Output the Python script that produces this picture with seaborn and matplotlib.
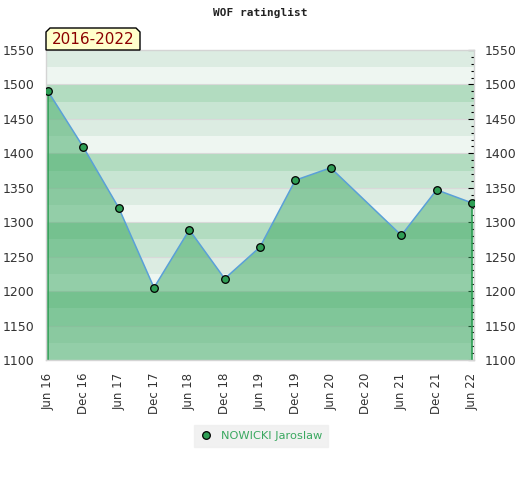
import numpy as np
import pandas as pd
import matplotlib
matplotlib.use("Agg")
import matplotlib.pyplot as plt
import seaborn as sns
from matplotlib.patches import Polygon
from matplotlib.lines import Line2D
from matplotlib.ticker import MultipleLocator

# ─── DATA ──────────────────────────────────────────────────────────────────────
period_labels = ["Jun 16", "Dec 16", "Jun 17", "Dec 17", "Jun 18", "Dec 18", "Jun 19",
                 "Dec 19", "Jun 20", "Dec 20", "Jun 21", "Dec 21", "Jun 22"]
rated_periods = ["Jun 16", "Dec 16", "Jun 17", "Dec 17", "Jun 18", "Dec 18", "Jun 19",
                 "Dec 19", "Jun 20", "Jun 21", "Dec 21", "Jun 22"]
ratings = [1490, 1409, 1321, 1205, 1289, 1218, 1264, 1361, 1379, 1281, 1347, 1328]
player = "NOWICKI Jaroslaw"
title = "WOF ratinglist"
span_label = "2016-2022"

Y_MIN, Y_MAX = 1100, 1550
FILL_GREEN = "#3aa860"
MARK_GREEN = "#2f9e55"
BAND_COLORS = ["#b2dcc0", "#c8e5d3", "#dcece2", "#eef6f1"]  # top to bottom in each 100 block

df = pd.DataFrame({"period": rated_periods, "rating": ratings})
df["x"] = [period_labels.index(p) for p in df["period"]]

# ─── FIGURE ────────────────────────────────────────────────────────────────────
sns.set_style("white")
fig = plt.figure(figsize=(5.2, 4.8), dpi=100)
ax = fig.add_axes([46 / 520, 1 - 360 / 480, 428 / 520, 310 / 480])

# background bands, 25 points each
for lo in range(Y_MIN, Y_MAX, 25):
    idx = 3 - ((lo - Y_MIN) // 25) % 4
    ax.axhspan(lo, lo + 25, color=BAND_COLORS[idx], lw=0, zorder=0)
for y in range(Y_MIN + 50, Y_MAX, 50):
    ax.axhline(y, color="#d9d9d9", lw=0.8, zorder=0.5)

# area under the curve
xs = df["x"].tolist()
poly_x = xs + [xs[-1], xs[0]]
poly_y = df["rating"].tolist() + [Y_MIN, Y_MIN]
ax.fill(poly_x, poly_y, color=FILL_GREEN, alpha=0.5, lw=0, zorder=1)
ax.vlines([xs[0], xs[-1]], Y_MIN, [df["rating"].iloc[0], df["rating"].iloc[-1]],
          color=MARK_GREEN, lw=1.2, zorder=2)

sns.lineplot(data=df, x="x", y="rating", ax=ax, color="#5aa0d8", lw=1.1,
             zorder=3, legend=False)
sns.scatterplot(data=df, x="x", y="rating", ax=ax, color=MARK_GREEN, s=30,
                edgecolor="black", linewidth=0.9, zorder=4, legend=False)

pad = 2 / 35.33
ax.set_xlim(-pad, 12 + pad)
ax.set_ylim(Y_MIN, Y_MAX)
ax.set_xlabel("")
ax.set_ylabel("")

ax.set_xticks(range(len(period_labels)))
ax.set_xticklabels(period_labels, rotation=90, fontsize=8.5, color="#333333")
ax.tick_params(axis="x", length=0, pad=9)

# y labels on both sides, ticks only on the right
ax.yaxis.set_major_locator(MultipleLocator(50))
ax.yaxis.set_minor_locator(MultipleLocator(10))
ax.tick_params(axis="y", which="both", left=False, right=True, labelleft=True,
               labelright=True, direction="in", labelsize=9, labelcolor="#333333")
ax.tick_params(axis="y", which="major", length=4, width=0.8, color="black", pad=8)
ax.tick_params(axis="y", which="minor", length=2.5, width=0.8, color="black")

for side in ["left", "bottom", "top", "right"]:
    ax.spines[side].set_color("#d4d4d4")
    ax.spines[side].set_linewidth(1)

fig.text(260 / 520, 1 - 13 / 480, title, ha="center", va="center",
         fontsize=8, fontweight="bold", family="DejaVu Sans Mono", color="#222222")

# period tag with chamfered top corners
px = [46, 46, 50, 136, 140, 140]
py = [50, 32, 28, 28, 32, 50]
tag = Polygon([(a / 520, 1 - b / 480) for a, b in zip(px, py)], closed=True,
              transform=fig.transFigure, facecolor="#ffffcc", edgecolor="black",
              lw=1, zorder=5)
fig.patches.append(tag)
fig.text(93 / 520, 1 - 40 / 480, span_label, ha="center", va="center",
         fontsize=11, color="#8b0000", zorder=6)

handle = Line2D([], [], ls="none", marker="o", markersize=5.5,
                markerfacecolor=MARK_GREEN, markeredgecolor="black", markeredgewidth=0.9)
leg = fig.legend([handle], [player], loc="center", bbox_to_anchor=(261 / 520, 1 - 436 / 480),
                 frameon=True, fontsize=8.2, handlelength=1.0, handletextpad=0.8,
                 borderpad=0.55, fancybox=False)
leg.get_frame().set_facecolor("#eeeeee")
leg.get_frame().set_edgecolor("#eeeeee")
for t in leg.get_texts():
    t.set_color("#3aa860")

fig.savefig("out.png", dpi=100)
